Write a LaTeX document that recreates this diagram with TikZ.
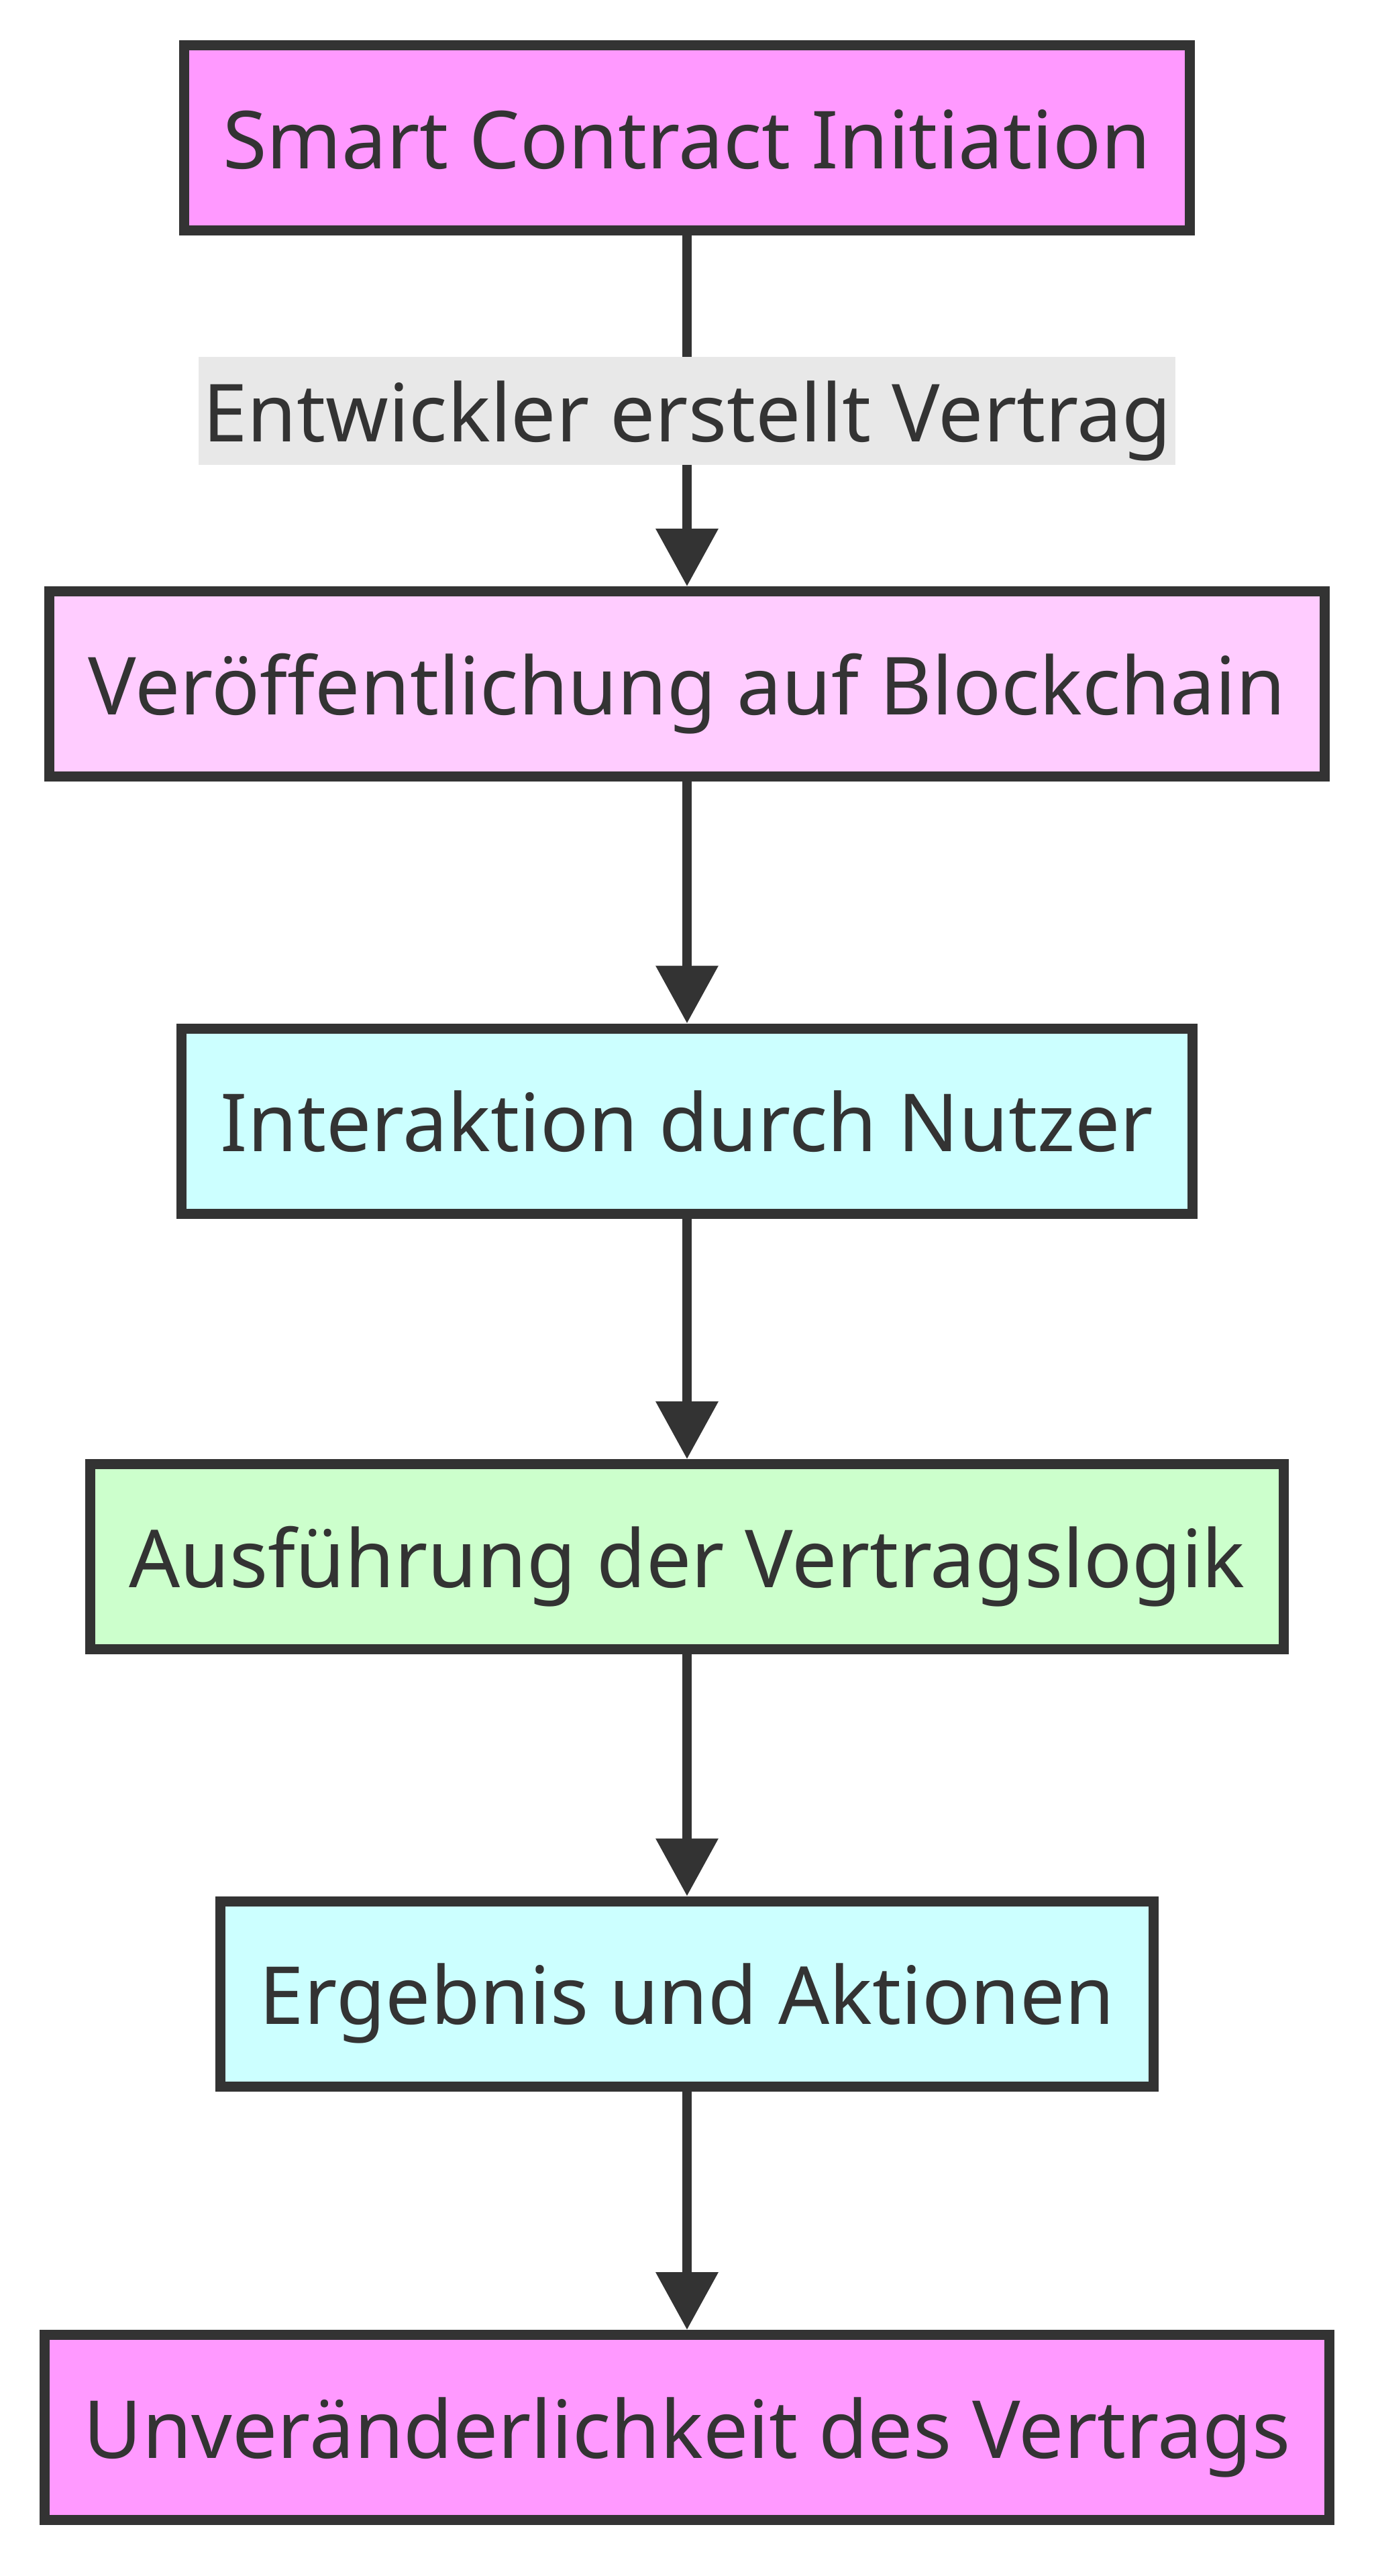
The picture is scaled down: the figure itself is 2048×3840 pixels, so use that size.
\documentclass[tikz,border=0pt]{standalone}
\usepackage{fontspec}
\setmainfont{Noto Sans}
\usetikzlibrary{arrows.meta}
\definecolor{rand}{HTML}{333333}
\definecolor{rosa}{HTML}{FF99FF}
\definecolor{hellrosa}{HTML}{FFCCFF}
\definecolor{tuerkis}{HTML}{CCFFFF}
\definecolor{gruen}{HTML}{CCFFCC}
\definecolor{grau}{HTML}{E8E8E8}

\begin{document}
\begin{tikzpicture}[x=0.5pt,y=-0.5pt,
  kasten/.style={draw=rand,line width=7.5pt,text=rand,minimum height=138pt,
    inner xsep=29pt,text height=54pt,text depth=8.4pt,
    font=\fontsize{59.7}{72}\selectfont},
  kante/.style={fill=grau,text=rand,inner xsep=3pt,inner ysep=0pt,
    text height=54pt,text depth=8.4pt,
    minimum height=80.5pt,font=\fontsize{59.7}{72}\selectfont},
  pfeil/.style={draw=rand,line width=7pt,-{Triangle[width=45pt,length=43pt]}}]
\useasboundingbox (0,0) rectangle (2048,3840);

\node[kasten,fill=rosa] (init) at (1024,205.5) {Smart Contract Initiation};
\node[kasten,fill=hellrosa] (veroeff) at (1024,1019.5) {Veröffentlichung auf Blockchain};
\node[kasten,fill=tuerkis] (inter) at (1024,1671) {Interaktion durch Nutzer};
\node[kasten,fill=gruen] (ausf) at (1024,2320.5) {Ausführung der Vertragslogik};
\node[kasten,fill=tuerkis] (ergeb) at (1024,2972) {Ergebnis und Aktionen};
\node[kasten,fill=rosa] (unver) at (1024,3618.5) {Unveränderlichkeit des Vertrags};

\draw[pfeil] (init) -- node[kante] {Entwickler erstellt Vertrag} (veroeff);
\draw[pfeil] (veroeff) -- (inter);
\draw[pfeil] (inter) -- (ausf);
\draw[pfeil] (ausf) -- (ergeb);
\draw[pfeil] (ergeb) -- (unver);
\end{tikzpicture}
\end{document}
